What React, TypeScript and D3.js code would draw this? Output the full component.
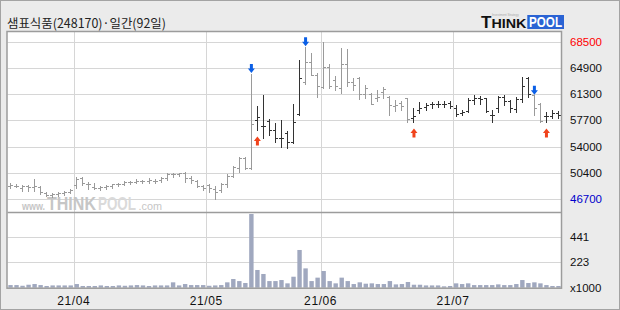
import React from "react";
import * as d3 from "d3";

const title = "샘표식품(248170)·일간(92일)";

const opens = [
  48550, 48550, 48250, 48550, 48400, 48400, 47550, 47300, 47450, 47550, 47700,
  48700, 49650, 48800, 48400, 48250, 48400, 48550, 48800, 48800, 49100, 49100,
  49250, 49250, 49250, 49350, 49650, 50200, 50200, 50300, 49650, 49250, 48550,
  48700, 48150, 48000, 48800, 49900, 51000, 52400, 51000, 57700, 56800, 57500,
  56300, 55200, 55900, 54600, 58500, 62900, 65700, 63900, 62200, 65000, 63200,
  62100, 65400, 62900, 63500, 61300, 61300, 60700, 61500, 60900, 59600, 60000,
  60700, 57900, 59100, 59500, 59900, 59900, 59900, 60000, 59300, 58600, 58900,
  60400, 60700, 60700, 58400, 59300, 60900, 60300, 59200, 60600, 63500, 61100,
  59900, 58200, 58200, 58600,
];
const highs = [
  48950, 48800, 48700, 48700, 49500, 48550, 47700, 47550, 47700, 47850, 48150,
  49800, 49800, 49100, 48950, 48550, 48700, 48800, 48950, 49250, 49250, 49500,
  49350, 49650, 49500, 49800, 50300, 50400, 50400, 50500, 49900, 49350, 48700,
  48800, 48550, 48950, 50200, 51300, 52600, 52600, 64100, 59600, 61100, 57800,
  57300, 57700, 56100, 59900, 66000, 67800, 67000, 64200, 68500, 65400, 63800,
  67600, 67500, 63500, 63600, 62500, 61400, 61800, 62200, 61000, 60400, 60300,
  60700, 59300, 60200, 60000, 60200, 60300, 60300, 60300, 59700, 59100, 60700,
  61100, 61000, 60700, 59100, 61000, 61100, 60400, 60800, 63600, 63600, 61100,
  60000, 58800, 59100, 58900,
];
const lows = [
  48250, 48400, 47850, 47850, 47850, 47450, 47150, 47000, 47150, 47300, 47550,
  48250, 48700, 48150, 48150, 48000, 48150, 48250, 48550, 48700, 48800, 48950,
  48950, 48950, 48950, 49100, 49350, 49800, 49900, 49100, 48950, 48400, 48000,
  47700, 46700, 47700, 48400, 49850, 50500, 50900, 50850, 56300, 55200, 55600,
  54600, 53900, 53800, 54500, 58400, 62600, 63900, 60900, 62100, 62100, 61800,
  61400, 62400, 61800, 60600, 60700, 59900, 60300, 60700, 58400, 58900, 59100,
  57400, 57400, 58600, 59000, 59300, 59500, 59500, 59300, 58200, 58400, 58800,
  59900, 59900, 58800, 57400, 58800, 59700, 58800, 58800, 60200, 60900, 58400,
  57400, 57400, 57900, 57900,
];
const closes = [
  48700, 48550, 48550, 48400, 48550, 47700, 47300, 47450, 47550, 47700, 48000,
  49500, 48950, 48800, 48250, 48400, 48550, 48800, 48800, 49100, 49100, 49250,
  49250, 49350, 49250, 49650, 50200, 50200, 50300, 49650, 49350, 48550, 48250,
  48250, 47700, 48800, 49900, 51200, 52400, 51000, 57100, 58100, 56800, 56300,
  55200, 55200, 54600, 57400, 63500, 65700, 63900, 62400, 65000, 62400, 62400,
  65400, 62900, 62500, 61300, 62100, 59900, 60900, 62000, 59700, 59700, 59600,
  57800, 58200, 59300, 59700, 59900, 59900, 59900, 59600, 58500, 58800, 60400,
  60700, 60600, 58900, 58400, 60900, 60300, 59300, 60600, 62400, 61300, 59300,
  57500, 58200, 58600, 58400,
];
const volumes = [
  23, 23, 17, 26, 32, 23, 15, 20, 20, 20, 20, 32, 15, 15, 15, 20, 15, 15, 20,
  17, 20, 23, 20, 15, 20, 20, 20, 47, 20, 32, 23, 23, 23, 17, 20, 23, 47, 76,
  58, 41, 645, 155, 120, 58, 58, 67, 38, 96, 330, 169, 58, 88, 146, 58, 38, 88,
  58, 32, 47, 35, 38, 32, 32, 58, 29, 32, 50, 26, 26, 20, 20, 20, 12, 15, 38,
  32, 38, 23, 23, 23, 23, 29, 23, 23, 32, 67, 41, 47, 38, 23, 15, 15,
];

const sellSignals = [40, 49, 87];
const buySignals = [41, 67, 89];

const monthLabels = ["21/04", "21/05", "21/06", "21/07"];
const monthStartIndex = [11, 33, 52, 74];

const priceTicks = [68500, 64900, 61300, 57700, 54000, 50400, 46700];
const volumeTicks = [441, 223];
const volumeUnit = "x1000";

const W = 620;
const H = 310;
const plotLeft = 7.5;
const plotRight = 561.5;
const priceTop = 41.7;
const priceBottom = 199.3;
const panelTop = 31.5;
const separatorY = 212.5;
const volTop = 237.3;
const volBottom = 287.7;

const px = (v: number) => Math.round(v) + 0.5;

export default function App() {
  const n = opens.length;
  const x = d3
    .scaleBand<number>()
    .domain(d3.range(n))
    .range([plotLeft, plotRight])
    .padding(0);
  const step = x.step();
  const cx = (i: number) => (x(i) as number) + step / 2;

  const yP = d3
    .scaleLinear()
    .domain([d3.min(priceTicks) as number, d3.max(priceTicks) as number])
    .range([priceBottom, priceTop]);
  const yV = d3
    .scaleLinear()
    .domain([0, volumeTicks[0]])
    .range([volBottom, volTop]);

  const maxTick = d3.max(priceTicks);
  const minTick = d3.min(priceTicks);

  const signals = [
    ...sellSignals.map((i) => ({ i, t: "sell" })),
    ...buySignals.map((i) => ({ i, t: "buy" })),
  ].sort((a, b) => a.i - b.i);
  const isDark = (i: number) => {
    let s = "sell";
    for (const sg of signals) if (sg.i <= i) s = sg.t;
    return s === "buy";
  };

  const labelFont = "'Liberation Sans', Arial, sans-serif";

  return (
    <div style={{ position: "absolute", left: 0, top: 0 }}>
      <svg width={W} height={H} style={{ display: "block" }}>
        <rect x={0.5} y={0.5} width={W - 1} height={H - 1} fill="#ebebeb" stroke="#a3a3a3" />
        {/* title */}
        <text
          x={7}
          y={27.5}
          fontFamily="'Noto Sans CJK KR', sans-serif"
          fontSize={12.5}
          fill="#222"
          textLength={159}
          lengthAdjust="spacingAndGlyphs"
        >
          {title}
        </text>
        {/* logo */}
        <g>
          <text x={492} y={15.8} fontFamily={labelFont} fontSize={3} fill="#aaa">
            Investment Strategy
          </text>
          <text x={481} y={27.7} fontFamily={labelFont} fontWeight="bold" fill="#111">
            <tspan fontSize={17}>T</tspan>
            <tspan fontSize={13} textLength={35} lengthAdjust="spacingAndGlyphs">HINK</tspan>
          </text>
          <rect x={527.3} y={15} width={36.7} height={14} fill="#2a63d4" />
          <text
            x={529}
            y={27.3}
            fontFamily={labelFont}
            fontWeight="bold"
            fontSize={14}
            fill="#fff"
            textLength={33}
            lengthAdjust="spacingAndGlyphs"
          >
            POOL
          </text>
        </g>

        {/* plot background */}
        <rect x={plotLeft - 0.5} y={panelTop} width={plotRight - plotLeft + 0.5} height={volBottom - panelTop} fill="#fff" />

        {/* price grid */}
        {priceTicks.map((t) => (
          <line key={"pg" + t} x1={plotLeft} x2={plotRight} y1={px(yP(t))} y2={px(yP(t))} stroke="#d6d6d6" />
        ))}
        {/* volume grid */}
        {volumeTicks.map((t) => (
          <line key={"vg" + t} x1={plotLeft} x2={plotRight} y1={px(yV(t))} y2={px(yV(t))} stroke="#d6d6d6" />
        ))}
        {/* month grid */}
        {monthStartIndex.map((mi) => (
          <line key={"mg" + mi} x1={px(x(mi) as number)} x2={px(x(mi) as number)} y1={panelTop} y2={volBottom} stroke="#d6d6d6" />
        ))}

        {/* watermark */}
        <text y={209.5} fontFamily={labelFont} fontWeight="bold" fill="#c6c6c6">
          <tspan x={22} fontSize={10} textLength={23} lengthAdjust="spacingAndGlyphs">www.</tspan>
          <tspan x={47} fontSize={19} textLength={49} lengthAdjust="spacingAndGlyphs">THINK</tspan>
          <tspan x={98} fontSize={19} fill="#dadada" textLength={38} lengthAdjust="spacingAndGlyphs">POOL</tspan>
          <tspan x={138.5} fontSize={10.5} fontWeight="normal" textLength={23.5} lengthAdjust="spacingAndGlyphs">.com</tspan>
        </text>

        {/* volume bars */}
        {volumes.map((v, i) => (
          <rect
            key={"v" + i}
            x={cx(i) - 2.2}
            y={yV(v)}
            width={4.4}
            height={volBottom - yV(v)}
            fill="#a0a8bf"
          />
        ))}

        {/* OHLC bars */}
        {opens.map((o, i) => {
          const c = px(cx(i) - 0.5);
          const col = isDark(i) ? "#333333" : "#9a9a9a";
          const yo = Math.round(yP(o)) + 0.5;
          const yc = Math.round(yP(closes[i])) + 0.5;
          return (
            <g key={"b" + i} stroke={col} strokeWidth={1}>
              <line x1={c} x2={c} y1={Math.round(yP(highs[i]))} y2={Math.round(yP(lows[i])) + 1} />
              <line x1={c - 2.5} x2={c} y1={yo} y2={yo} />
              <line x1={c} x2={c + 2.5} y1={yc} y2={yc} />
            </g>
          );
        })}

        {/* sell arrows */}
        {sellSignals.map((i) => {
          const c = cx(i);
          const tip = yP(highs[i]) - 0.5;
          const d = `M${c - 1.5},${tip - 9} L${c + 1.5},${tip - 9} L${c + 1.5},${tip - 4.5} L${c + 3.5},${tip - 4.5} L${c},${tip} L${c - 3.5},${tip - 4.5} L${c - 1.5},${tip - 4.5} Z`;
          return <path key={"s" + i} d={d} fill="#0b5fe6" />;
        })}
        {/* buy arrows */}
        {buySignals.map((i) => {
          const c = cx(i);
          const tip = yP(lows[i]) + 6.5;
          const d = `M${c - 1.5},${tip + 9} L${c + 1.5},${tip + 9} L${c + 1.5},${tip + 4.5} L${c + 3.5},${tip + 4.5} L${c},${tip} L${c - 3.5},${tip + 4.5} L${c - 1.5},${tip + 4.5} Z`;
          return <path key={"u" + i} d={d} fill="#f0431c" />;
        })}

        {/* frame lines */}
        <rect x={plotLeft - 0.5} y={panelTop} width={plotRight - plotLeft + 0.5} height={volBottom - panelTop + 0.5} fill="none" stroke="#9c9c9c" strokeWidth={1.5} />
        <line x1={plotLeft} x2={plotRight} y1={separatorY} y2={separatorY} stroke="#9c9c9c" strokeWidth={1.5} />

        {/* price labels */}
        {priceTicks.map((t) => (
          <text
            key={"pl" + t}
            x={570}
            y={yP(t) + 4}
            fontFamily={labelFont}
            fontSize={11.5}
            fill={t === maxTick ? "#ff0000" : t === minTick ? "#0000cc" : "#111"}
          >
            {t}
          </text>
        ))}
        {/* volume labels */}
        {volumeTicks.map((t) => (
          <text key={"vl" + t} x={570} y={yV(t) + 4} fontFamily={labelFont} fontSize={11.5} fill="#111">
            {t}
          </text>
        ))}
        <text x={570} y={volBottom + 4} fontFamily={labelFont} fontSize={11.5} fill="#111">
          {volumeUnit}
        </text>

        {/* month labels */}
        {monthLabels.map((m, k) => (
          <text
            key={"ml" + m}
            x={x(monthStartIndex[k]) as number}
            y={305}
            textAnchor="middle"
            fontFamily={labelFont}
            fontSize={12}
            letterSpacing={0.6}
            fill="#111"
          >
            {m}
          </text>
        ))}
      </svg>
    </div>
  );
}
